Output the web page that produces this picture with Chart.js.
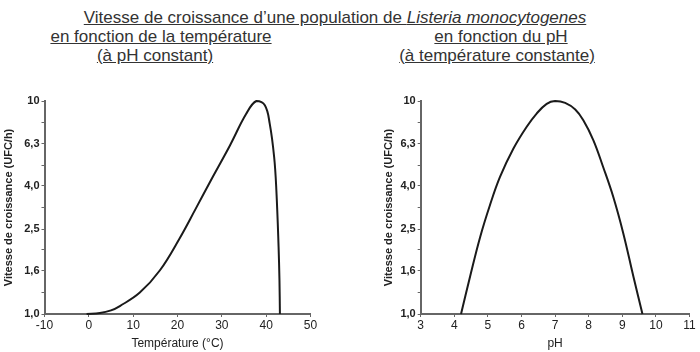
<!DOCTYPE html>
<html>
<head>
<meta charset="utf-8">
<script src="https://cdn.jsdelivr.net/npm/chart.js@4"></script>
<style>
  body { margin: 0; background: #fff; }
  #page { position: relative; width: 700px; height: 352px; font-family: "Liberation Sans", Arial, sans-serif; color: #333; }
  .t { position: absolute; font-size: 17px; text-decoration: underline; white-space: nowrap; transform: translateX(-50%); line-height: 19px; }
  #c1 { position: absolute; left: 0; top: 0; }
  #c2 { position: absolute; left: 350px; top: 0; }
</style>
</head>
<body>
<div id="page">
  <div class="t" style="left:335px; top:8px;">Vitesse de croissance d’une population de <i>Listeria monocytogenes</i></div>
  <div class="t" style="left:161px; top:27px;">en fonction de la température</div>
  <div class="t" style="left:155px; top:46px;">(à pH constant)</div>
  <div class="t" style="left:501px; top:27px;">en fonction du pH</div>
  <div class="t" style="left:497px; top:46px;">(à température constante)</div>
  <canvas id="c1" width="340" height="352"></canvas>
  <canvas id="c2" width="350" height="352"></canvas>
</div>
<script>
// temperature curve (°C -> UFC/h)
const tempC    = [-0.5, 2.5, 5, 7, 11.5, 16, 20.5, 24, 28, 31.8, 35.5, 37.8, 39.7, 40.8, 41.8, 42.3, 42.8, 43.0, 43.1];
const rateTemp = [1.0, 1.01, 1.04, 1.09, 1.26, 1.60, 2.27, 3.09, 4.42, 6.17, 8.71, 10.0, 9.55, 7.83, 5.46, 3.81, 2.07, 1.44, 1.0];

// pH curve
const pH     = [4.2, 4.47, 4.77, 5.06, 5.36, 5.76, 6.15, 6.45, 6.75, 7.0, 7.3, 7.6, 7.84, 8.14, 8.43, 8.73, 9.03, 9.33, 9.6];
const ratePH = [1.0, 1.50, 2.30, 3.24, 4.40, 5.98, 7.55, 8.73, 9.7, 10.0, 9.8, 9.12, 8.12, 6.54, 4.90, 3.55, 2.39, 1.50, 1.0];

// y ticks (log scale), labelled and unlabelled
const yTicks      = [1.0, 1.6, 2.5, 4.0, 6.3, 10];
const yMinorTicks = [1.26, 2.0, 3.16, 5.0, 7.94];

const yTitle = "Vitesse de croissance (UFC/h)";

function makeChart(id, xs, ys, xMin, xMax, xStep, xTitle, yWidth, padLeft, padRight) {
  const pts = xs.map((x, i) => ({ x: x, y: ys[i] }));
  return new Chart(document.getElementById(id), {
    type: "line",
    data: {
      datasets: [{
        data: pts,
        borderColor: "#1a1a1a",
        borderWidth: 2,
        pointRadius: 0,
        tension: 0.4,
        clip: false
      }]
    },
    options: {
      responsive: false,
      animation: false,
      events: [],
      layout: { padding: { top: 101, left: padLeft, right: padRight, bottom: 0 } },
      plugins: { legend: { display: false }, tooltip: { enabled: false } },
      scales: {
        x: {
          type: "linear",
          min: xMin, max: xMax,
          afterFit: s => { s.height = 38; },
          border: { color: "#666", width: 2 },
          grid: { drawOnChartArea: false, tickLength: 3, color: "#666" },
          ticks: { stepSize: xStep, color: "#222", font: { family: "Liberation Sans", size: 12 }, padding: 1, maxRotation: 0 },
          title: { display: true, text: xTitle, color: "#222", font: { family: "Liberation Sans", size: 12 }, padding: { top: 0, bottom: 1 } }
        },
        y: {
          type: "logarithmic",
          min: 1, max: 10,
          afterFit: s => { s.width = yWidth; },
          afterBuildTicks: s => {
            s.ticks = yTicks.concat(yMinorTicks).sort((a, b) => a - b).map(v => ({ value: v }));
          },
          border: { color: "#666", width: 2 },
          grid: { drawOnChartArea: false, tickLength: 3, color: "#666" },
          ticks: {
            color: "#222",
            padding: 2,
            font: { family: "Liberation Sans", size: 11, weight: "bold" },
            autoSkip: false,
            callback: v => {
              if (!yTicks.includes(v)) return "";
              return v === 10 ? "10" : v.toFixed(1).replace(".", ",");
            }
          },
          title: { display: true, text: yTitle, color: "#222", font: { family: "Liberation Sans", size: 11, weight: "bold" }, padding: { top: 2, bottom: 0 } }
        }
      }
    }
  });
}

makeChart("c1", tempC, rateTemp, -10, 50, 10, "Température (°C)", 44.5, 0, 29.5);
makeChart("c2", pH, ratePH, 3, 11, 1, "pH", 40.7, 30, 10.5);
</script>
</body>
</html>
